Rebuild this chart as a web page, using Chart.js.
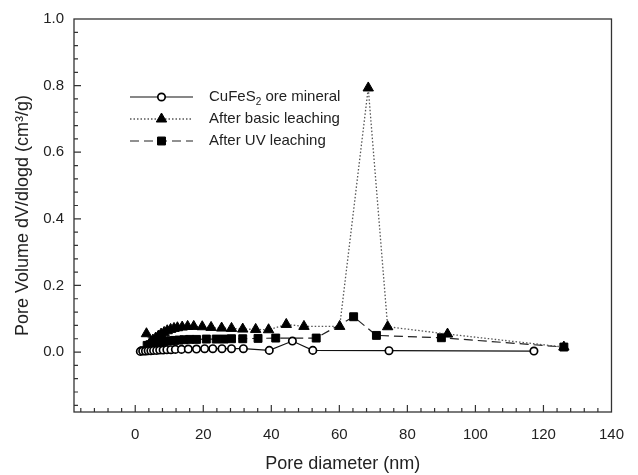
<!DOCTYPE html>
<html>
<head>
<meta charset="utf-8">
<script src="https://cdn.jsdelivr.net/npm/chart.js@4/dist/chart.umd.min.js"></script>
<style>
  html, body { margin: 0; padding: 0; background: #fff; }
  #wrap { width: 638px; height: 475px; }
</style>
</head>
<body>
<div id="wrap"><canvas id="poreChart" width="638" height="475"></canvas></div>
<script>
// pore diameter (nm) / pore volume (cm3/g)
var oreX = [1.5, 2.2, 3.0, 3.8, 4.6, 5.4, 6.3, 7.2, 8.2, 9.3, 10.5, 11.8, 13.6, 15.6, 18.0, 20.4, 22.8, 25.5, 28.3, 31.8, 39.4, 46.2, 52.2, 74.6, 117.2];
var oreY = [0.002, 0.003, 0.003, 0.004, 0.004, 0.005, 0.005, 0.006, 0.006, 0.007, 0.007, 0.008, 0.008, 0.009, 0.009, 0.010, 0.010, 0.010, 0.010, 0.010, 0.005, 0.033, 0.005, 0.004, 0.003];

var basicX = [3.3, 4.5, 5.2, 6.0, 6.8, 7.6, 8.5, 9.4, 10.4, 11.4, 12.4, 13.8, 15.4, 17.2, 19.7, 22.3, 25.4, 28.3, 31.6, 35.4, 39.2, 44.4, 49.6, 60.1, 68.5, 74.2, 91.8, 126.0];
var basicY = [0.055, 0.030, 0.036, 0.042, 0.048, 0.054, 0.059, 0.064, 0.068, 0.071, 0.073, 0.075, 0.077, 0.077, 0.076, 0.074, 0.072, 0.071, 0.069, 0.068, 0.067, 0.083, 0.077, 0.077, 0.793, 0.076, 0.054, 0.015];

var uvX = [2.5, 3.5, 4.3, 5.0, 5.8, 6.6, 7.5, 8.4, 9.4, 10.5, 11.6, 12.9, 14.3, 16.0, 18.0, 20.9, 23.8, 26.1, 28.3, 31.6, 36.1, 41.3, 53.2, 64.2, 70.9, 90.0, 126.0];
var uvY = [0.004, 0.020, 0.022, 0.024, 0.026, 0.028, 0.030, 0.031, 0.033, 0.034, 0.035, 0.036, 0.037, 0.038, 0.038, 0.039, 0.039, 0.039, 0.040, 0.040, 0.041, 0.042, 0.042, 0.106, 0.050, 0.043, 0.015];

var seriesNames = ['CuFeS2 ore mineral', 'After basic leaching', 'After UV leaching'];
var xTicks = [0, 20, 40, 60, 80, 100, 120, 140];
var yTicks = [0.0, 0.2, 0.4, 0.6, 0.8, 1.0];

function pts(xs, ys) {
  return xs.map(function (x, i) { return { x: x, y: ys[i] }; });
}

var FONT = 'Liberation Sans, Arial, sans-serif';
var INK = '#222';

// box round the plot, with short ticks pointing inwards
var framePlugin = {
  id: 'frame',
  beforeDatasetsDraw: function (chart) {
    var ctx = chart.ctx, a = chart.chartArea;
    var xs = chart.scales.x, ys = chart.scales.y;
    ctx.save();
    ctx.strokeStyle = '#333';
    ctx.lineWidth = 1.3;
    ctx.strokeRect(a.left, a.top, a.right - a.left, a.bottom - a.top);
    ctx.lineWidth = 1.2;
    ctx.beginPath();
    for (var v = -16; v <= 140; v += 4) {
      var px = xs.getPixelForValue(v);
      if (px <= a.left + 1 || px >= a.right - 1) continue;
      var len = (v % 20 === 0) ? 7 : 4;
      ctx.moveTo(px, a.bottom);
      ctx.lineTo(px, a.bottom - len);
    }
    for (var k = -4; k <= 25; k++) {
      var val = k * 0.04;
      var py = ys.getPixelForValue(val);
      if (py <= a.top + 1 || py >= a.bottom - 1) continue;
      var ln = (k % 5 === 0) ? 7 : 4;
      ctx.moveTo(a.left, py);
      ctx.lineTo(a.left + ln, py);
    }
    ctx.stroke();
    ctx.restore();
  }
};

// legend drawn inside the plot, upper left
var legendPlugin = {
  id: 'insideLegend',
  afterDatasetsDraw: function (chart) {
    var ctx = chart.ctx;
    var x0 = 130, x1 = 193, tx = 209, y0 = 97, dy = 22;
    ctx.save();
    chart.data.datasets.forEach(function (ds, i) {
      var y = y0 + i * dy;
      ctx.strokeStyle = ds.borderColor;
      ctx.lineWidth = ds.borderWidth;
      ctx.setLineDash(ds.borderDash || []);
      ctx.beginPath();
      ctx.moveTo(x0, y);
      ctx.lineTo(x1, y);
      ctx.stroke();
      ctx.setLineDash([]);
      ctx.fillStyle = ds.pointBackgroundColor;
      ctx.strokeStyle = ds.pointBorderColor;
      ctx.lineWidth = ds.pointBorderWidth;
      Chart.helpers.drawPoint(ctx, {
        pointStyle: ds.pointStyle, radius: ds.pointRadius,
        borderWidth: ds.pointBorderWidth, rotation: 0
      }, (x0 + x1) / 2, y);

      ctx.fillStyle = INK;
      ctx.textBaseline = 'middle';
      ctx.textAlign = 'left';
      ctx.font = '15px ' + FONT;
      var name = ds.label;
      if (i === 0) {
        // subscript 2 in CuFeS2
        var head = name.slice(0, 5), tail = name.slice(6);
        ctx.fillText(head, tx, y);
        var w = ctx.measureText(head).width;
        ctx.font = '10px ' + FONT;
        ctx.fillText('2', tx + w, y + 5);
        var w2 = ctx.measureText('2').width;
        ctx.font = '15px ' + FONT;
        ctx.fillText(tail, tx + w + w2, y);
      } else {
        ctx.fillText(name, tx, y);
      }
    });
    ctx.restore();
  }
};

var poreChart = new Chart('poreChart', {
  type: 'line',
  data: {
    datasets: [{
      label: seriesNames[0],
      data: pts(oreX, oreY),
      borderColor: '#111',
      borderWidth: 1.2,
      pointStyle: 'circle',
      pointRadius: 3.7,
      pointBackgroundColor: '#fff',
      pointBorderColor: '#000',
      pointBorderWidth: 1.7
    }, {
      label: seriesNames[1],
      data: pts(basicX, basicY),
      borderColor: '#555',
      borderWidth: 1.3,
      borderDash: [1.5, 2],
      pointStyle: 'triangle',
      pointRadius: 6,
      pointBackgroundColor: '#000',
      pointBorderColor: '#000',
      pointBorderWidth: 1
    }, {
      label: seriesNames[2],
      data: pts(uvX, uvY),
      borderColor: '#222',
      borderWidth: 1.2,
      borderDash: [9, 5],
      pointStyle: 'rect',
      pointRadius: 5.6,
      pointBackgroundColor: '#000',
      pointBorderColor: '#000',
      pointBorderWidth: 1
    }]
  },
  options: {
    responsive: false,
    animation: false,
    layout: { padding: { left: 0, top: 17, right: 13, bottom: 0 } },
    plugins: {
      legend: { display: false },
      tooltip: { enabled: false }
    },
    scales: {
      x: {
        type: 'linear',
        min: -18,
        max: 140,
        grid: { display: false, drawTicks: false },
        border: { display: false },
        afterFit: function (s) { s.height = 63; },
        afterBuildTicks: function (s) {
          s.ticks = xTicks.map(function (v) { return { value: v }; });
        },
        ticks: {
          padding: 14,
          maxRotation: 0,
          autoSkip: false,
          color: INK,
          font: { family: FONT, size: 15 },
          callback: function (v) { return String(v); }
        },
        title: {
          display: true,
          text: 'Pore diameter (nm)',
          color: INK,
          padding: { top: 0, bottom: 0 },
          font: { family: FONT, size: 18 }
        }
      },
      y: {
        min: -0.18,
        max: 1.0,
        grid: { display: false, drawTicks: false },
        border: { display: false },
        afterFit: function (s) { s.width = 74; },
        afterBuildTicks: function (s) {
          s.ticks = yTicks.map(function (v) { return { value: v }; });
        },
        ticks: {
          padding: 10,
          autoSkip: false,
          color: INK,
          font: { family: FONT, size: 15 },
          callback: function (v) { return Number(v).toFixed(1); }
        },
        title: {
          display: true,
          text: 'Pore Volume dV/dlogd (cm³/g)',
          color: INK,
          padding: { top: 12, bottom: 0 },
          font: { family: FONT, size: 18 }
        }
      }
    }
  },
  plugins: [framePlugin, legendPlugin]
});
</script>
</body>
</html>
